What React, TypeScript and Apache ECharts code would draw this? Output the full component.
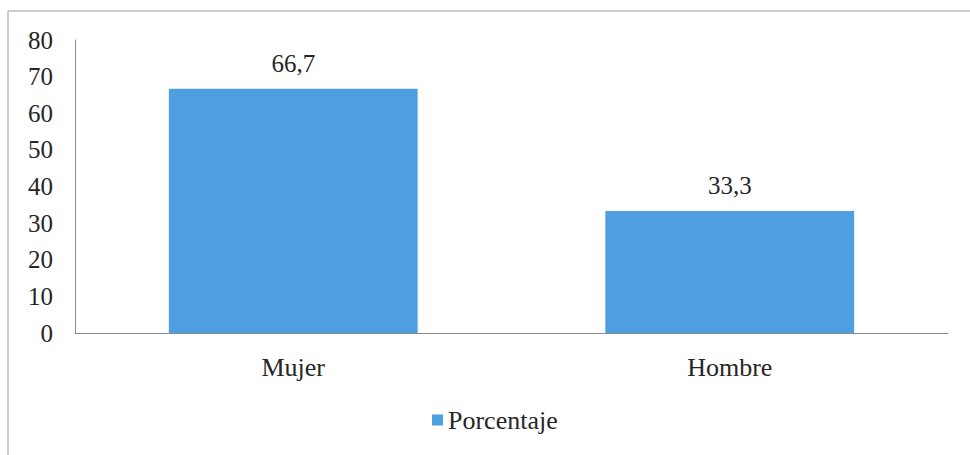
import React, { useEffect, useRef } from "react";
import * as echarts from "echarts";

const categories = ["Mujer", "Hombre"];
const porcentaje = [66.7, 33.3];
const seriesName = "Porcentaje";
const yTicks = { min: 0, max: 80, interval: 10 };

const FONT = "Liberation Serif";
const TEXT = "#262626";
const BAR = "#4d9fe2";
const AXIS = "#8a8a8a";

const serifText = { fontFamily: FONT, fontSize: 25, color: TEXT };

export default function App() {
  const ref = useRef<HTMLDivElement>(null);

  useEffect(() => {
    if (!ref.current) return;
    const chart = echarts.init(ref.current, undefined, { renderer: "svg" });
    chart.setOption({
      animation: false,
      backgroundColor: "#ffffff",
      textStyle: { fontFamily: FONT },
      graphic: [
        {
          type: "rect",
          shape: { x: 8, y: 11, width: 1000, height: 480 },
          style: { fill: "none", stroke: "#9a9a9a", lineWidth: 1 },
          silent: true,
        },
      ],
      grid: { left: 75, right: 22, top: 40, bottom: 122 },
      legend: {
        data: [seriesName],
        bottom: 17,
        left: 427,
        icon: "rect",
        itemWidth: 11,
        itemHeight: 11,
        itemGap: 6,
        textStyle: { ...serifText, fontSize: 26 },
      },
      xAxis: {
        type: "category",
        data: categories,
        axisLine: { show: true, lineStyle: { color: AXIS, width: 1 } },
        axisTick: { show: false },
        axisLabel: { ...serifText, fontSize: 26, margin: 21 },
      },
      yAxis: {
        type: "value",
        min: yTicks.min,
        max: yTicks.max,
        interval: yTicks.interval,
        axisLine: { show: true, lineStyle: { color: AXIS, width: 1 } },
        axisTick: { show: false },
        splitLine: { show: false },
        axisLabel: { ...serifText, margin: 22 },
      },
      series: [
        {
          name: seriesName,
          type: "bar",
          data: porcentaje,
          barWidth: "57%",
          itemStyle: { color: BAR },
          label: {
            show: true,
            position: "top",
            distance: 13,
            ...serifText,
            formatter: (p: any) => String(p.value).replace(".", ","),
          },
        },
      ],
    });
    return () => chart.dispose();
  }, []);

  return (
    <div
      ref={ref}
      style={{ position: "fixed", left: 0, top: 0, width: 970, height: 455 }}
    />
  );
}
